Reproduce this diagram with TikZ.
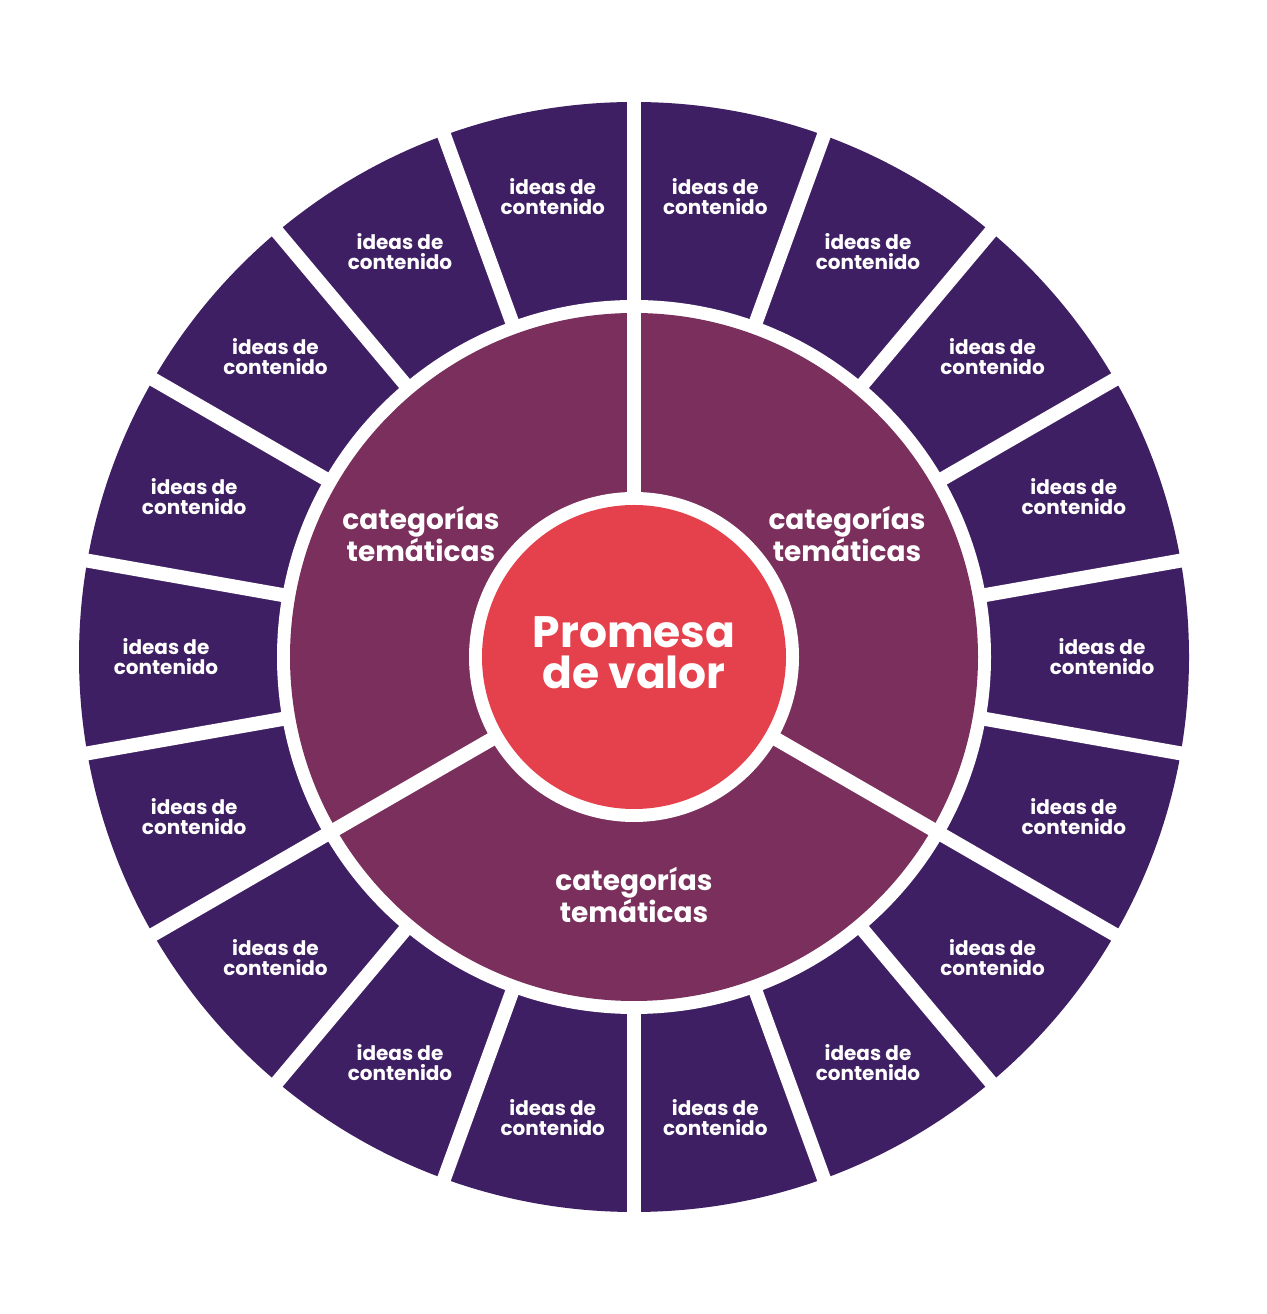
\documentclass[tikz,border=0pt]{standalone}
\usepackage{fontspec}
\setmainfont{Poppins}
\definecolor{outerc}{HTML}{3F1F63}
\definecolor{midc}{HTML}{7B2F5C}
\definecolor{redc}{HTML}{E5414D}
\begin{document}
\begin{tikzpicture}[x=0.75pt,y=0.75pt,
  idea/.style={text=white,font=\bfseries\fontsize{15}{15}\selectfont,align=center},
  cat/.style={text=white,font=\bfseries\fontsize{21}{20}\selectfont,align=center},
  gap/.style={white,line width=10.5pt}]
\useasboundingbox (0,0) rectangle (1267,1314);
\fill[white] (0,0) rectangle (1267,1314);
\begin{scope}[shift={(634,657)}]
\fill[outerc] (0,0) circle (555);
\fill[white] (0,0) circle (357);
\fill[midc] (0,0) circle (344);
\fill[white] (0,0) circle (165);
\fill[redc] (0,0) circle (152);
\foreach \k in {0,...,17}{ \draw[gap] ({10+20*\k}:350) -- ({10+20*\k}:600); }
\draw[gap] (90:158) -- (90:350);
\draw[gap] (210:158) -- (210:350);
\draw[gap] (330:158) -- (330:350);
\foreach \k in {0,...,17}{ \node[idea] (i\k) at ({20*\k}:468) {ideas de\\contenido}; }
\node[cat] (c1) at (30:246) {categorías\\temáticas};
\node[cat] (c2) at (150:246) {categorías\\temáticas};
\node[cat] (c3) at (270:238) {categorías\\temáticas};
\node[text=white,font=\bfseries\fontsize{33}{31}\selectfont,align=center] (p) at (0,4) {Promesa\\de valor};
\end{scope}
\end{tikzpicture}
\end{document}
